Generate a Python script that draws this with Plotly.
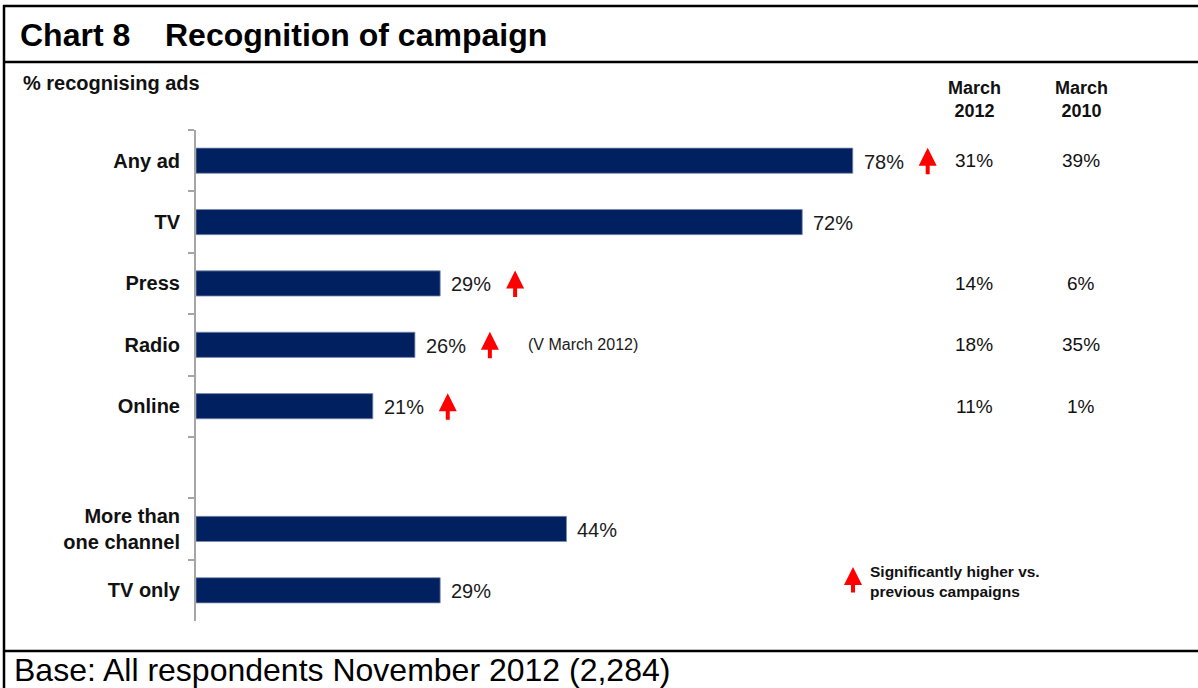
import plotly.graph_objects as go

# ---- data -------------------------------------------------------------
channels = ["Any ad", "TV", "Press", "Radio", "Online", " ",
            "More than<br>one channel", "TV only"]
nov_2012 = [78, 72, 29, 26, 21, None, 44, 29]
march_2012 = [31, None, 14, 18, 11, None, None, None]
march_2010 = [39, None, 6, 35, 1, None, None, None]
sig_higher = [True, False, True, True, True, False, False, False]
col_headers = ["March<br>2012", "March<br>2010"]

# ---- page geometry (pixels) -------------------------------------------
W, H = 1198, 688
PL, PR, PT, PB = 196, 1038, 130, 621   # plot area box


def px(x):
    return (x - PL) / (PR - PL)


def py(y):
    return (PB - y) / (PB - PT)


FONT = "Arial, Liberation Sans, sans-serif"
NAVY = "#002060"
RED = "#ff0000"

fig = go.Figure()
fig.add_trace(go.Bar(
    x=nov_2012, y=channels, orientation="h",
    marker=dict(color=NAVY, line=dict(color="#7a8aac", width=0.8)),
    width=0.41, hoverinfo="skip",
))

ann = []
# value labels at bar ends
for cat, v in zip(channels, nov_2012):
    if v is None:
        continue
    ann.append(dict(x=v, y=cat, xref="x", yref="y", text=f"{v}%",
                    xanchor="left", yanchor="middle", xshift=9, yshift=-1,
                    showarrow=False, font=dict(family=FONT, size=20, color="#1a1a1a")))

# red "significantly higher" arrows
ARROW = dict(showarrow=True, arrowhead=2, arrowsize=0.9, arrowwidth=4,
             arrowcolor=RED, ax=0, standoff=0, text="", font=dict(size=1))
ARROW_OFFSET = 8.9
for cat, v, s in zip(channels, nov_2012, sig_higher):
    if not s:
        continue
    ann.append(dict(x=v + ARROW_OFFSET, y=cat, xref="x", yref="y",
                    ay=28, yshift=13, **ARROW))

ann.append(dict(x=39.2, y="Radio", xref="x", yref="y", text="(V March 2012)",
                xanchor="left", yanchor="middle", showarrow=False,
                font=dict(family=FONT, size=16, color="#1a1a1a")))

# comparison columns
col_px = [974, 1081]
for cx, head, vals in zip(col_px, col_headers, [march_2012, march_2010]):
    ann.append(dict(x=px(cx), y=py(100), xref="paper", yref="paper", text=f"<b>{head}</b>",
                    xanchor="center", yanchor="middle", showarrow=False,
                    font=dict(family=FONT, size=18, color="#111111")))
    for cat, v in zip(channels, vals):
        if v is None:
            continue
        ann.append(dict(x=px(cx), y=cat, xref="paper", yref="y", text=f"{v}%",
                        xanchor="center", yanchor="middle", showarrow=False,
                        font=dict(family=FONT, size=19, color="#111111")))

# key
ann.append(dict(x=px(853), y=py(567), xref="paper", yref="paper", ay=27, **ARROW))
ann.append(dict(x=px(868), y=py(581), xref="paper", yref="paper",
                text="<b>Significantly higher vs.<br>previous campaigns</b>",
                xanchor="left", yanchor="middle", align="left", showarrow=False,
                font=dict(family=FONT, size=15.5, color="#111111")))

# titles and notes
ann.append(dict(x=px(21), y=py(83), xref="paper", yref="paper",
                text="<b>% recognising ads</b>", xanchor="left", yanchor="middle",
                showarrow=False, font=dict(family=FONT, size=20, color="#111111")))
ann.append(dict(x=px(18), y=py(35), xref="paper", yref="paper",
                text="<b>Chart 8</b>", xanchor="left", yanchor="middle",
                showarrow=False, font=dict(family=FONT, size=32, color="#000000")))
ann.append(dict(x=px(163), y=py(35), xref="paper", yref="paper",
                text="<b>Recognition of campaign</b>", xanchor="left", yanchor="middle",
                showarrow=False, font=dict(family=FONT, size=32, color="#000000")))
ann.append(dict(x=px(12), y=py(670), xref="paper", yref="paper",
                text="Base: All respondents November 2012 (2,284)",
                xanchor="left", yanchor="middle", showarrow=False,
                font=dict(family=FONT, size=32, color="#000000")))

# frame lines
line = dict(color="#000000", width=2.5)
shapes = [
    dict(type="line", xref="paper", yref="paper", x0=px(3), x1=px(1198), y0=py(6), y1=py(6), line=line),
    dict(type="line", xref="paper", yref="paper", x0=px(3), x1=px(1198), y0=py(62), y1=py(62), line=line),
    dict(type="line", xref="paper", yref="paper", x0=px(3), x1=px(1198), y0=py(651), y1=py(651), line=line),
    dict(type="line", xref="paper", yref="paper", x0=px(4), x1=px(4), y0=py(5), y1=py(688), line=line),
]

fig.update_layout(
    width=W, height=H,
    margin=dict(l=PL, r=W - PR, t=PT, b=H - PB),
    paper_bgcolor="white", plot_bgcolor="white",
    showlegend=False,
    annotations=ann, shapes=shapes,
    xaxis=dict(range=[0, 100], visible=False, fixedrange=True),
    yaxis=dict(type="category", categoryorder="array", categoryarray=channels,
               range=[len(channels) - 0.5, -0.5],
               showline=True, linecolor="#a6a6a6", linewidth=2,
               ticks="outside", tickson="boundaries", ticklen=6, tickcolor="#a6a6a6",
               tickwidth=1.5, showgrid=False, zeroline=False,
               ticklabelstandoff=10,
               tickfont=dict(family=FONT, size=20, color="#111111", weight="bold")),
)

fig.write_html("out.html")
